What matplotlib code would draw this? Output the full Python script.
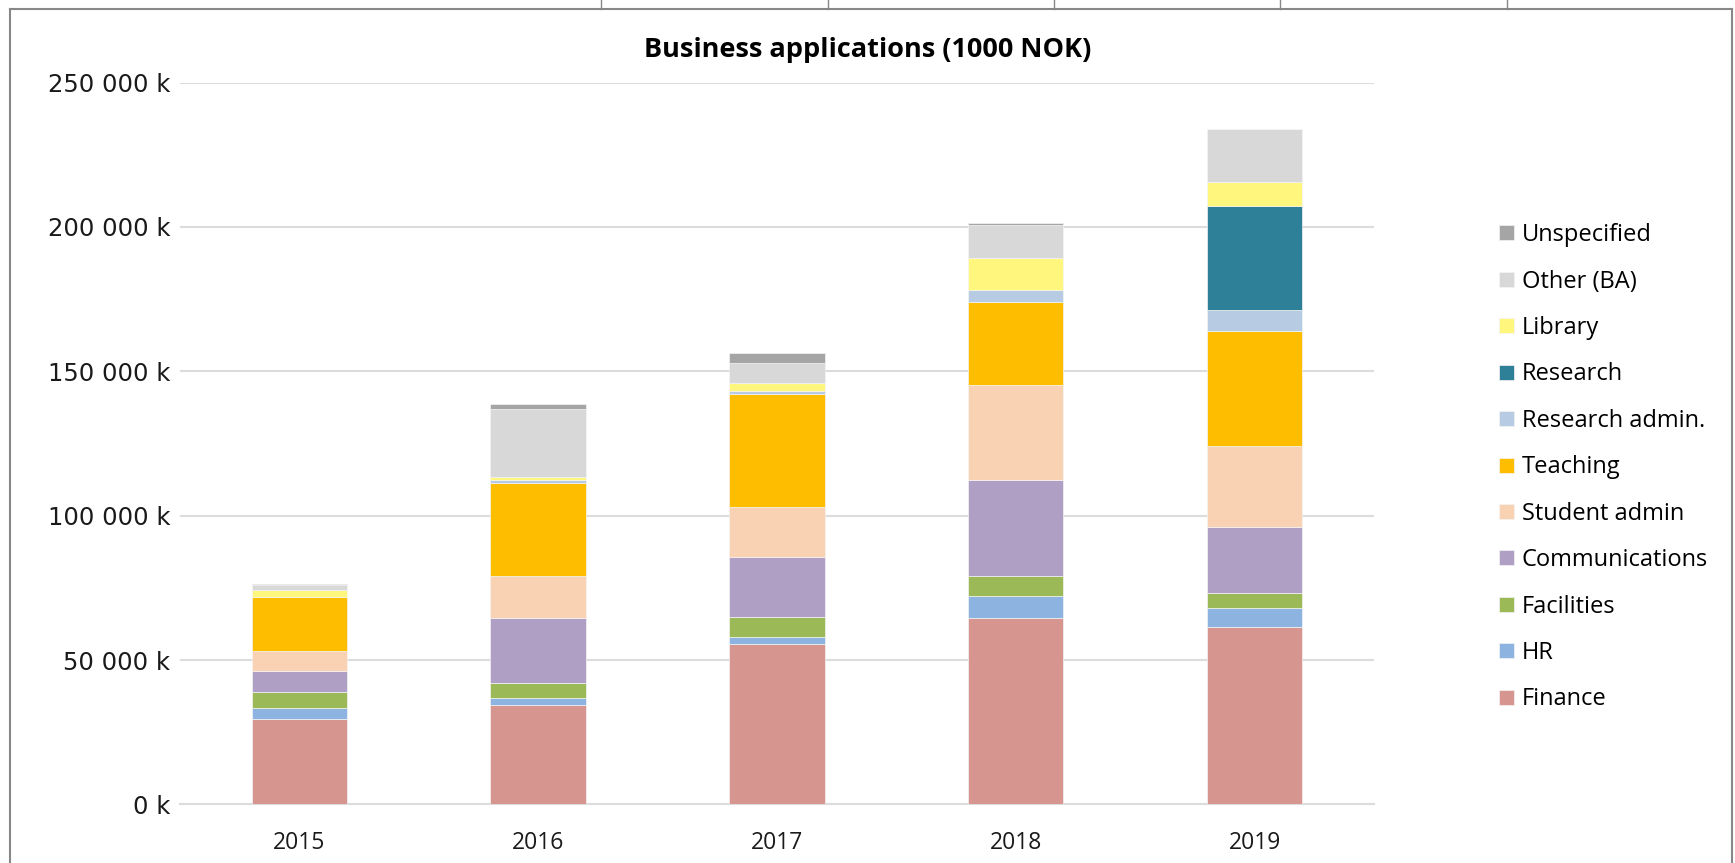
import numpy as np
import matplotlib
matplotlib.use("Agg")
import matplotlib.pyplot as plt
from matplotlib.lines import Line2D

plt.rcParams["font.family"] = ["Open Sans", "DejaVu Sans"]

years = ["2015", "2016", "2017", "2018", "2019"]

# values in 1000 NOK
finance = [29500, 34500, 55500, 64700, 61400]
hr = [4000, 2500, 2600, 7600, 6800]
facilities = [5400, 5000, 6700, 6700, 5000]
communications = [7300, 22700, 21000, 33400, 22900]
student_admin = [7100, 14400, 17300, 33000, 28000]
teaching = [18400, 32100, 39000, 28700, 40000]
research_admin = [300, 1000, 1100, 4100, 7200]
research = [0, 0, 0, 0, 35900]
library = [2400, 1300, 2600, 11000, 8200]
other_ba = [1600, 23300, 7000, 11500, 18600]
unspecified = [400, 1800, 3600, 800, 0]

series = [
    ("Finance", finance, "#D6958F"),
    ("HR", hr, "#8DB3E0"),
    ("Facilities", facilities, "#9BBA57"),
    ("Communications", communications, "#B09FC4"),
    ("Student admin", student_admin, "#F9D1B3"),
    ("Teaching", teaching, "#FFBD00"),
    ("Research admin.", research_admin, "#B7CCE2"),
    ("Research", research, "#2E8099"),
    ("Library", library, "#FFF77D"),
    ("Other (BA)", other_ba, "#D8D8D8"),
    ("Unspecified", unspecified, "#A5A5A5"),
]

fig = plt.figure(figsize=(17.35, 8.63), dpi=100)
ax = fig.add_axes([0.1037, 0.0678, 0.6882, 0.8366])

x = np.arange(len(years))
bottom = np.zeros(len(years))
handles = []
for name, vals, color in series:
    vals = np.array(vals, dtype=float)
    b = ax.bar(x, vals, 0.40, bottom=bottom, color=color, label=name,
               edgecolor="#F4F4F4", linewidth=0.5, zorder=3)
    handles.append(b)
    bottom += vals

yt = np.arange(0, 250001, 50000)
ax.set_xlim(-0.5, 4.5)
ax.set_ylim(0, 250000)
ax.set_yticks(yt)
ax.set_yticklabels(["{:,} k".format(int(v)).replace(",", " ") for v in yt],
                   fontfamily="DejaVu Sans")
ax.set_xticks(x)
ax.set_xticklabels(years)
ax.tick_params(axis="y", length=0, pad=7, labelsize=17.5, colors="#1a1a1a")
ax.tick_params(axis="x", length=0, pad=19, labelsize=16.5, colors="#1a1a1a")
ax.grid(axis="y", color="#DCDCDC", linewidth=1.5, zorder=0)
for s in ["top", "right", "left"]:
    ax.spines[s].set_visible(False)
ax.spines["bottom"].set_color("#DCDCDC")
ax.spines["bottom"].set_linewidth(1.5)

fig.text(0.50, 0.942, "Business applications (1000 NOK)", ha="center", va="center",
         fontsize=19.5, fontweight="bold")

leg = fig.legend(handles[::-1], [s[0] for s in series][::-1],
                 loc="upper left", bbox_to_anchor=(0.852, 0.766),
                 frameon=False, fontsize=17, labelspacing=0.95,
                 handlelength=0.6, handleheight=0.6, handletextpad=0.35)

# screenshot frame lines
fig.add_artist(Line2D([0.006, 0.006], [0, 0.99], transform=fig.transFigure, color="#888888", lw=1.5))
fig.add_artist(Line2D([0.998, 0.998], [0, 0.99], transform=fig.transFigure, color="#888888", lw=1.5))
fig.add_artist(Line2D([0.006, 0.998], [0.99, 0.99], transform=fig.transFigure, color="#888888", lw=1.5))
for tx in [601, 828, 1054, 1280, 1507]:
    fig.add_artist(Line2D([tx / 1735, tx / 1735], [0.99, 1.0], transform=fig.transFigure, color="#888888", lw=1))

fig.savefig("out.png", dpi=100)
